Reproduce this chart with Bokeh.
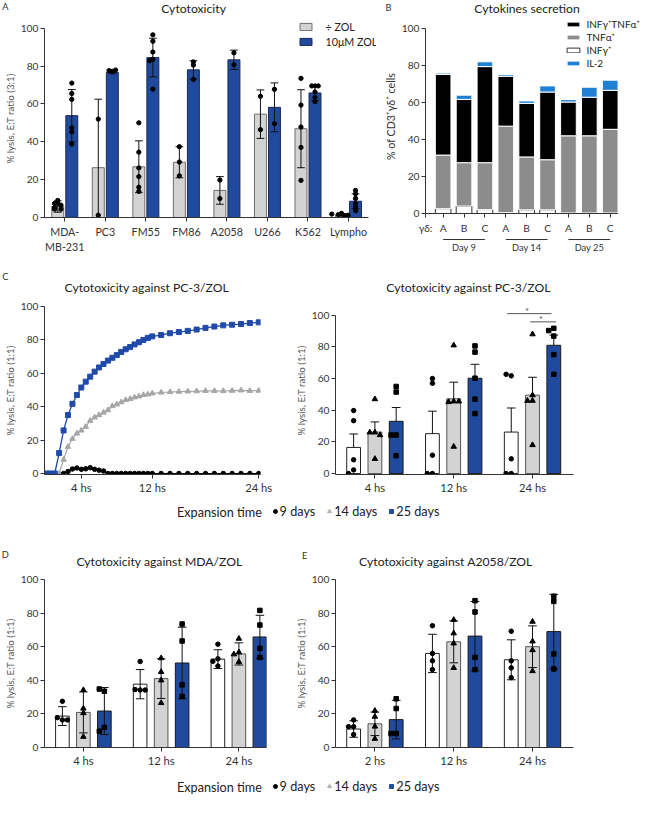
import numpy as np
from bokeh.plotting import figure
from bokeh.models import (FixedTicker, Label, Legend, LegendItem,
                          ColumnDataSource, Range1d)
from bokeh.layouts import row, column
from bokeh.embed import file_html
from bokeh.resources import INLINE
from bokeh.core.properties import value

nan = float("nan")

# ======================= DATA =======================
# ---- Panel A: cytotoxicity (E:T 3:1)
a_cells = ["MDA-\nMB-231", "PC3", "FM55", "FM86", "A2058", "U266", "K562", "Lympho"]
a_series = ["÷ ZOL", "10μM ZOL"]
a_nozol_mean = [5.8, 26.3, 26.8, 29.2, 14.3, 54.6, 46.9, 1.4]
a_nozol_sd = [3.0, 36.2, 13.7, 8.2, 7.3, 12.8, 20.6, 0.7]
a_zol_mean = [53.8, 76.6, 84.5, 78.0, 83.3, 58.2, 65.8, 8.6]
a_zol_sd = [13.8, 0.7, 10.2, 4.8, 5.1, 12.9, 4.0, 3.9]
a_nozol_pts = [[9.0, 7.4, 7.4, 6.5, 5.2, 4.4, 4.4], [52.0, 1.2],
               [50.0, 34.5, 26.2, 21.6, 16.0, 13.8], [37.4, 29.3, 22.0],
               [19.8, 10.0], [64.0, 46.4], [73.5, 59.4, 47.8, 37.0, 19.6],
               [2.2, 1.5, 1.0, 0.5, 1.2, 1.8]]
a_zol_pts = [[71.0, 65.5, 62.4, 47.4, 45.2, 38.8], [77.2, 77.6, 77.9],
             [96.5, 93.1, 87.4, 83.6, 82.8, 67.8], [82.2, 80.5, 72.9],
             [87.0, 80.7], [67.7, 49.6], [69.5, 69.5, 69.5, 66.3, 63.4, 61.2],
             [14.3, 12.5, 10.1, 7.4, 5.7, 3.6]]

# ---- Panel B: cytokines secretion (stacked)
b_axis_prefix = "γδ:"
b_donors = ["A", "B", "C", "A", "B", "C", "A", "B", "C"]
b_days = ["Day 9", "Day 14", "Day 25"]
b_series = ["INFγ⁺TNFα⁺", "TNFα⁺", "INFγ⁺", "IL-2"]
b_infg = [2.6, 4.0, 2.1, 0.5, 2.0, 2.0, 0.3, 0.3, 0.3]
b_tnfa = [28.9, 23.4, 25.3, 46.6, 28.5, 27.0, 41.6, 41.6, 45.1]
b_both = [43.5, 34.1, 51.8, 26.9, 28.9, 36.5, 18.2, 20.8, 21.0]
b_il2 = [0.7, 2.3, 2.6, 0.9, 1.3, 3.3, 1.3, 5.4, 5.5]

# ---- Panel C left: kinetics vs PC-3/ZOL
c_time = [0, 0.5, 1, 1.5, 2, 2.5, 3, 3.5, 4, 4.5, 5, 5.5, 6, 6.5, 7, 7.5, 8,
          8.5, 9, 9.5, 10, 10.5, 11, 11.5, 12, 13, 14, 15, 16, 17, 18, 19,
          20, 21, 22, 23, 24]
c_25d = [0, 0, 0, 12.2, 25.8, 35.0, 41.7, 47.0, 51.5, 55.0, 58.0, 61.0, 63.5,
         65.6, 67.6, 69.3, 70.9, 72.8, 74.4, 75.7, 77.3, 78.6, 80.0, 81.2,
         82.1, 82.9, 84.0, 84.7, 85.4, 86.2, 87.2, 88.0, 88.7, 89.1, 89.5,
         90.1, 90.5]
c_14d = [nan, nan, nan, 0, 8.3, 16.0, 20.8, 24.0, 25.8, 28.0, 31.6, 33.6,
         35.0, 36.5, 37.9, 40.4, 41.4, 42.7, 44.0, 44.7, 45.6, 46.2, 47.0,
         47.4, 48.0, 48.5, 48.8, 49.0, 49.2, 49.3, 49.5, 49.5, 49.4, 49.6,
         49.8, 49.5, 49.6]
c_9d = [nan, nan, nan, nan, 0, 1.2, 2.7, 3.3, 2.5, 2.8, 3.5, 2.5, 2.0, 1.5,
        0, 0, 0, 0, 0, 0, 0, 0, 0, 0, 0, 0, 0, 0, 0, 0, 0, 0, 0, 0, 0, 0, 0]
c_ticks = [4, 12, 24]
c_tick_labels = ["4 hs", "12 hs", "24 hs"]
exp_title = "Expansion time"
exp_labels = ["9 days", "14 days", "25 days"]

# ---- Panel C right: PC-3/ZOL at 4/12/24 hs (mean + SEM)
cr_times = ["4 hs", "12 hs", "24 hs"]
cr_mean = [[16.5, 25.2, 26.2], [26.2, 47.2, 49.5], [33.0, 60.2, 81.0]]
cr_sem = [[8.5, 14.2, 15.2], [6.4, 10.5, 11.3], [8.7, 8.8, 6.4]]
cr_pts = [
    [[39.8, 33.4, 8.7, 2.3, 0.0], [60.0, 57.0, 11.6, 0.0, 0.0], [61.7, 62.7, 9.3, 0.0, 0.0]],
    [[47.0, 26.0, 26.0, 24.3, 9.3], [81.0, 45.6, 45.2, 45.6, 17.0], [88.0, 49.5, 46.0, 46.0, 18.0]],
    [[55.0, 51.5, 24.3, 24.3, 11.3], [80.6, 76.7, 60.2, 47.0, 37.9], [91.7, 90.3, 86.8, 75.1, 62.7]],
]
cr_sig_x0 = [1.68, 1.97]
cr_sig_x1 = [2.24, 2.30]
cr_sig_y = [101.0, 95.8]
cr_sig_text = ["*", "*"]

# ---- Panel D: MDA/ZOL (mean ± SD)
d_times = ["4 hs", "12 hs", "24 hs"]
d_mean = [[18.7, 37.7, 52.6], [20.9, 41.0, 55.7], [21.7, 50.3, 65.8]]
d_sd = [[5.6, 8.7, 5.6], [12.2, 11.8, 6.6], [14.0, 21.3, 12.9]]
d_pts = [
    [[27.5, 16.4, 17.8, 16.4], [51.2, 34.2, 34.5, 34.2], [61.5, 52.8, 51.3, 48.5]],
    [[34.2, 23.2, 20.5, 6.4], [53.2, 45.0, 40.0, 26.5], [64.8, 56.7, 55.5, 51.0]],
    [[33.5, 34.8, 12.0, 9.7], [73.5, 63.4, 37.3, 30.4], [81.6, 72.9, 59.0, 53.6]],
]

# ---- Panel E: A2058/ZOL (mean ± SD)
e_times = ["2 hs", "12 hs", "24 hs"]
e_mean = [[11.0, 56.0, 52.2], [14.1, 62.9, 60.0], [16.6, 66.3, 69.0]]
e_sd = [[4.9, 11.4, 11.9], [7.0, 12.5, 12.4], [11.5, 20.6, 22.2]]
e_pts = [
    [[16.4, 12.4, 12.4, 7.7], [72.5, 56.0, 51.6, 46.4], [69.2, 51.6, 47.4, 41.6]],
    [[21.9, 18.4, 12.5, 5.2], [76.0, 68.0, 62.0, 47.4], [74.9, 63.2, 58.0, 45.5]],
    [[29.0, 23.2, 8.3, 8.3], [87.4, 80.7, 53.6, 46.4], [90.0, 87.0, 55.7, 46.8]],
]

titles = ["Cytotoxicity", "Cytokines secretion", "Cytotoxicity against PC-3/ZOL",
          "Cytotoxicity against PC-3/ZOL", "Cytotoxicity against MDA/ZOL",
          "Cytotoxicity against A2058/ZOL"]
panel_letters = ["A", "B", "C", "D", "E"]

# ======================= STYLE / LAYOUT =======================
SC = 0.975
FONT = "Lato"
BLUE = "#1f4a9e"
BLUE_L = "#1f4aa8"
GRAY_BAR = "#d3d3d3"
GRAY_TRI = "#a6a6a6"


def S(v):
    return int(round(v * SC))


def F(px):
    return f"{px * SC:.2f}px"


# reference-pixel geometry (left, top of figure; frame offsets)
spA = dict(left=0, top=18, W=388, H=258, fl=39, ft=1, fw=347, fh=203)
spB = dict(left=388, top=18, W=271, H=224, fl=48, ft=1, fw=221, fh=203)
spC1 = dict(left=0, top=302, W=298, H=208, fl=39, ft=11, fw=228, fh=173)
spC2 = dict(left=298, top=302, W=361, H=208, fl=44, ft=2, fw=245, fh=182)
spD = dict(left=0, top=583, W=298, H=205, fl=39, ft=10, fw=234, fh=172)
spE = dict(left=298, top=583, W=361, H=205, fl=44, ft=10, fw=245, fh=172)


def mkfig(sp, xr, yr, ytick=10.5, xtick=11.0):
    w, h = S(sp["W"]), S(sp["H"])
    l, t = S(sp["fl"]), S(sp["ft"])
    fw, fh = S(sp["fw"]), S(sp["fh"])
    p = figure(width=w, height=h, x_range=Range1d(*xr), y_range=Range1d(*yr),
               output_backend="svg", toolbar_location=None, title=None,
               min_border_left=l, min_border_top=t,
               min_border_right=w - l - fw, min_border_bottom=h - t - fh)
    p.outline_line_color = None
    p.xgrid.visible = False
    p.ygrid.visible = False
    p.background_fill_color = "white"
    p.border_fill_color = "white"
    for ax in p.axis:
        ax.axis_line_color = "#333333"
        ax.axis_line_width = 1
        ax.major_tick_line_color = "#333333"
        ax.major_tick_out = 4
        ax.major_tick_in = 0
        ax.minor_tick_line_color = None
        ax.major_label_text_font = FONT
        ax.major_label_text_color = "#333333"
        ax.major_label_standoff = 2
        ax.axis_label_text_font = FONT
        ax.axis_label_text_font_style = "normal"
        ax.axis_label_text_color = "#555555"
        ax.axis_label_standoff = 2
    p.yaxis.major_label_text_font_size = F(ytick)
    p.xaxis.major_label_text_font_size = F(xtick)
    p.yaxis.ticker = FixedTicker(ticks=[0, 20, 40, 60, 80, 100])
    p.yaxis.bounds = (yr[0], 100)
    return p


def blank_fig(W, H, xr=(0, 1), yr=(0, 1), **kw):
    p = figure(width=W, height=H, x_range=xr if not isinstance(xr, tuple) else Range1d(*xr),
               y_range=Range1d(*yr), output_backend="svg", toolbar_location=None,
               title=None, x_axis_location=None, y_axis_location=None, **kw)
    p.outline_line_color = None
    p.xgrid.visible = False
    p.ygrid.visible = False
    p.background_fill_color = "white"
    p.border_fill_color = "white"
    return p


def header(top, H, items):
    p = blank_fig(S(659), S(H), min_border=0)
    for X, Y, text, size, color in items:
        p.add_layout(Label(x=X * SC, y=(top + H - Y) * SC, x_units="screen",
                           y_units="screen", text=text, text_font=FONT,
                           text_font_size=F(size), text_color=color,
                           text_align="center", text_baseline="middle"))
    return p


def spread_pts(centers, groups, tol, d):
    xs, ys = [], []
    steps = [0, -d, d, -2 * d, 2 * d, -3 * d, 3 * d]
    for c, vals in zip(centers, groups):
        for i, v in enumerate(vals):
            k = sum(1 for u in vals[:i] if abs(u - v) < tol)
            xs.append(c + steps[min(k, 6)])
            ys.append(v)
    return xs, ys


def errbars(p, xs, m, e, cap, both=True, color="#111111"):
    m = np.array(m, dtype=float)
    e = np.array(e, dtype=float)
    xs = np.array(xs, dtype=float)
    lo = m - e if both else m
    p.segment(x0=xs, y0=lo, x1=xs, y1=m + e, line_color=color, line_width=1)
    p.segment(x0=xs - cap, y0=m + e, x1=xs + cap, y1=m + e, line_color=color, line_width=1)
    if both:
        p.segment(x0=xs - cap, y0=lo, x1=xs + cap, y1=lo, line_color=color, line_width=1)


# ======================= headers =======================
LET = "#333333"
TIT = "#222222"
head1 = header(0, 18, [(5, 6, panel_letters[0], 9.5, LET), (198, 8, titles[0], 12.5, TIT),
                       (398, 7, panel_letters[1], 9.5, LET), (540, 8, titles[1], 12.5, TIT)])
head2 = header(276, 26, [(5, 282, panel_letters[2], 9.5, LET), (150, 294, titles[2], 12.5, TIT),
                         (480, 294, titles[3], 12.5, TIT)])
head3 = header(536, 47, [(5, 568, panel_letters[3], 9.5, LET), (163, 575, titles[4], 12.5, TIT),
                         (312, 569, panel_letters[4], 9.5, LET), (457, 575, titles[5], 12.5, TIT)])

# ======================= PANEL A =======================
pA = mkfig(spA, (-0.5, 7.69), (0, 104.6), ytick=10.5, xtick=11.0)
pA.xaxis.bounds = (-0.5, 7.5)
xa = np.arange(len(a_cells))
offA, wA, capA = 0.173, 0.295, 0.095
rA0 = pA.vbar(x=xa - offA, top=a_nozol_mean, width=wA, fill_color=GRAY_BAR,
              line_color="#6e6e6e", line_width=1)
rA1 = pA.vbar(x=xa + offA, top=a_zol_mean, width=wA, fill_color=BLUE,
              line_color="#1b2a55", line_width=1)
errbars(pA, xa - offA, a_nozol_mean, a_nozol_sd, capA)
errbars(pA, xa + offA, a_zol_mean, a_zol_sd, capA)
for grp, sgn in [(a_nozol_pts, -1), (a_zol_pts, 1)]:
    px, py = spread_pts(list(xa + sgn * offA), grp, 1.5, 0.08)
    pA.scatter(px, py, marker="circle", size=4.3, color="black")
pA.xaxis.ticker = FixedTicker(ticks=list(xa))
pA.xaxis.major_label_overrides = {int(i): c for i, c in zip(xa, a_cells)}
pA.xaxis.major_label_standoff = 3
pA.yaxis.axis_label = "% lysis, E:T ratio (3:1)"
pA.yaxis.axis_label_text_font_size = F(10)
legA = Legend(items=[LegendItem(label=a_series[0], renderers=[rA0]),
                     LegendItem(label=a_series[1], renderers=[rA1])],
              location=((300 - 39) * SC, (222 - 49) * SC), orientation="vertical",
              glyph_width=S(15), glyph_height=S(9), label_standoff=S(12),
              spacing=S(2), padding=0, margin=0, border_line_color=None,
              background_fill_alpha=0, label_text_font=FONT,
              label_text_font_size=F(11), label_text_color="#222222")
pA.add_layout(legA)

# ======================= PANEL B =======================
pB = mkfig(spB, (-0.845, 9.45), (0, 104.6), ytick=10.5, xtick=10.5)
pB.xaxis.bounds = (-0.845, 8.37)
xb = list(range(len(b_donors)))
srcB = ColumnDataSource(dict(x=xb, infg=b_infg, tnfa=b_tnfa, both=b_both, il2=b_il2))
rB = pB.vbar_stack(["infg", "tnfa", "both", "il2"], x="x", width=0.75, source=srcB,
                   fill_color=["#ffffff", "#8c8c8c", "#000000", "#1f7fd2"],
                   line_color=["#333333", "#ffffff", "#ffffff", "#ffffff"],
                   line_width=1)
pB.xaxis.ticker = FixedTicker(ticks=[-0.84] + xb)
ov = {i: d for i, d in zip(xb, b_donors)}
ov[-0.84] = b_axis_prefix
pB.xaxis.major_label_overrides = ov
pB.xaxis.major_label_standoff = 4
pB.yaxis.axis_label = "% of CD3⁺γδ⁺ cells"
pB.yaxis.axis_label_text_font_size = F(11)
pB.yaxis.axis_label_text_color = "#333333"
legB = Legend(items=[LegendItem(label=b_series[0], renderers=[rB[2]]),
                     LegendItem(label=b_series[1], renderers=[rB[1]]),
                     LegendItem(label=b_series[2], renderers=[rB[0]]),
                     LegendItem(label=b_series[3], renderers=[rB[3]])],
              location=((580 - 436) * SC, (222 - 74) * SC), orientation="vertical",
              glyph_width=S(16), glyph_height=S(6), label_standoff=S(5),
              spacing=S(1), padding=0, margin=0, border_line_color=None,
              background_fill_alpha=0, label_text_font=FONT,
              label_text_font_size=F(10.3), label_text_color="#222222")
pB.add_layout(legB)

# group labels under B (own strip sharing B's x range)
wB = S(spB["W"])
subH = S(258) - S(224)
pBsub = blank_fig(wB, subH, xr=pB.x_range, yr=(0, 34),
                  min_border_left=S(spB["fl"]),
                  min_border_right=wB - S(spB["fl"]) - S(spB["fw"]),
                  min_border_top=0, min_border_bottom=0)
gc = [3 * gi + 1 for gi in range(len(b_days))]
pBsub.segment(x0=[c - 1 for c in gc], y0=[31] * 3, x1=[c + 1 for c in gc], y1=[31] * 3,
              line_color="#333333", line_width=1)
pBsub.text(x=gc, y=[23] * 3, text=b_days, text_font=value(FONT),
           text_font_size=value(F(9.5)), text_color="#333333",
           text_align="center", text_baseline="middle")

# ======================= PANEL C left =======================
pC1 = mkfig(spC1, (-0.15, 24.2), (-0.6, 100), ytick=10.5, xtick=11.5)
t = np.array(c_time, dtype=float)
g14 = np.array(c_14d, dtype=float)
g9 = np.array(c_9d, dtype=float)
g25 = np.array(c_25d, dtype=float)
pC1.line(t, g14, line_color=GRAY_TRI, line_width=1.2)
pC1.scatter(t, g14, marker="triangle", size=5.5, color=GRAY_TRI)
pC1.line(t, g9, line_color="black", line_width=1)
pC1.scatter(t, g9, marker="circle", size=4.5, color="black")
pC1.line(t, g25, line_color=BLUE_L, line_width=1.3)
pC1.scatter(t, g25, marker="square", size=5, color=BLUE_L)
pC1.xaxis.ticker = FixedTicker(ticks=c_ticks)
pC1.xaxis.major_label_overrides = {k: v for k, v in zip(c_ticks, c_tick_labels)}
pC1.yaxis.axis_label = "% lysis, E:T ratio (1:1)"
pC1.yaxis.axis_label_text_font_size = F(10)

# ======================= bar panel helper =======================
FILLS = ["#ffffff", GRAY_BAR, BLUE]
LINES = ["#222222", "#555555", "#1a1a1a"]
MARKS = ["circle", "triangle", "square"]
MSIZE = [4.5, 5.5, 4.5]
OFFS = [-0.27, 0.0, 0.27]


def bar_panel(p, means, errs, pts, both, labels):
    g = np.arange(3)
    for k in range(3):
        p.vbar(x=g + OFFS[k], top=means[k], width=0.175, fill_color=FILLS[k],
               line_color=LINES[k], line_width=1)
    for k in range(3):
        errbars(p, g + OFFS[k], means[k], errs[k], 0.055, both=both)
    for k in range(3):
        px, py = spread_pts(list(g + OFFS[k]), pts[k], 2.5, 0.065)
        p.scatter(px, py, marker=MARKS[k], size=MSIZE[k], color="black")
    p.xaxis.ticker = FixedTicker(ticks=list(range(3)))
    p.xaxis.major_label_overrides = {i: s for i, s in enumerate(labels)}
    p.yaxis.axis_label = "% lysis, E:T ratio (1:1)"
    p.yaxis.axis_label_text_font_size = F(10)


# ======================= PANEL C right =======================
pC2 = mkfig(spC2, (-0.5, 2.52), (-0.6, 105.5), ytick=10.5, xtick=11.5)
bar_panel(pC2, cr_mean, cr_sem, cr_pts, False, cr_times)
pC2.segment(x0=cr_sig_x0, y0=cr_sig_y, x1=cr_sig_x1, y1=cr_sig_y,
            line_color="#555555", line_width=1)
pC2.text(x=[(a + b) / 2 - 0.03 for a, b in zip(cr_sig_x0, cr_sig_x1)],
         y=[v + 1.7 for v in cr_sig_y], text=cr_sig_text,
         text_font=value(FONT), text_font_size=value(F(10)),
         text_color="#555555", text_align="center", text_baseline="middle")

# ======================= PANEL D / E =======================
pD = mkfig(spD, (-0.5, 2.355), (0, 100), ytick=10.5, xtick=11.5)
bar_panel(pD, d_mean, d_sd, d_pts, True, d_times)
pE = mkfig(spE, (-0.5, 2.52), (0, 100), ytick=10.5, xtick=11.5)
bar_panel(pE, e_mean, e_sd, e_pts, True, e_times)


# ======================= legend rows =======================
def legend_row(H, cy):
    p = blank_fig(S(659), S(H), xr=(-200, -199), min_border=0)
    series = [(g9, "circle", "black"), (g14, "triangle", "#b3b3b3"), (g25, "square", BLUE)]
    rs = [p.scatter(t, y, marker=m, color=c, size=4) for y, m, c in series]
    ymid = (H - cy) * SC
    p.add_layout(Label(x=181 * SC, y=ymid, x_units="screen", y_units="screen",
                       text=exp_title, text_font=FONT,
                       text_font_size=F(13), text_color="#222222",
                       text_align="left", text_baseline="middle"))
    lg = Legend(items=[LegendItem(label=lab, renderers=[r]) for lab, r in zip(exp_labels, rs)],
                location=(276.5 * SC, ymid - 8), orientation="horizontal",
                glyph_width=S(10), glyph_height=S(10), label_standoff=0,
                spacing=S(9.5), padding=0, margin=0, border_line_color=None,
                background_fill_alpha=0, label_text_font=FONT,
                label_text_font_size=F(13), label_text_color="#222222")
    p.add_layout(lg)
    return p


leg1 = legend_row(26, 14)
leg2 = legend_row(26, 18)

layout = column(head1, row(pA, column(pB, pBsub)), head2, row(pC1, pC2), leg1,
                head3, row(pD, pE), leg2)
open("out.html", "w").write(file_html(layout, INLINE))
